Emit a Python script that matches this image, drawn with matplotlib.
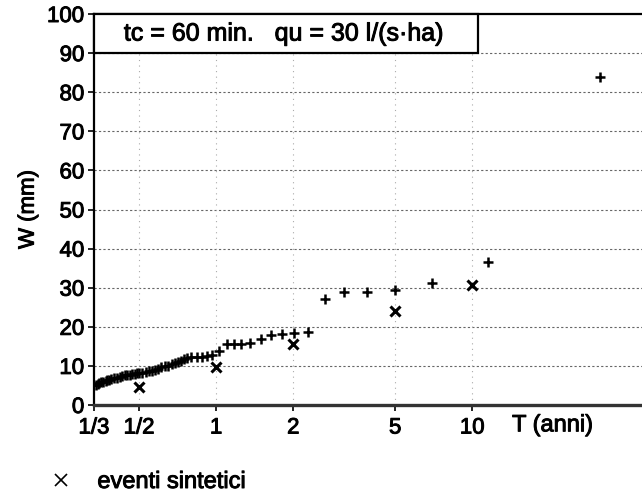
import matplotlib
matplotlib.use("Agg")
import matplotlib.pyplot as plt
import matplotlib.patheffects as pe
from matplotlib.lines import Line2D
from matplotlib.patches import Rectangle

plt.rcParams['font.family'] = ['Liberation Sans', 'DejaVu Sans']

# Observed events (plotting positions): return period T (years) and volume W (mm)
obs_T = [0.34, 0.345, 0.35, 0.355, 0.36, 0.37, 0.375, 0.38, 0.39, 0.40,
         0.41, 0.42, 0.43, 0.44, 0.45, 0.46, 0.47, 0.48, 0.49, 0.50,
         0.515, 0.53, 0.545, 0.56, 0.575, 0.59, 0.61, 0.63, 0.65, 0.67,
         0.69, 0.71, 0.73, 0.75, 0.77, 0.80, 0.84, 0.88, 0.92, 0.96,
         1.03, 1.10, 1.17, 1.25, 1.36, 1.49, 1.63, 1.81, 2.02, 2.28,
         2.66, 3.15, 3.88, 4.99, 6.97, 11.5, 31.6]
obs_W = [5.2, 5.4, 5.6, 5.9, 6.0, 6.2, 6.3, 6.5, 6.6, 6.9,
         7.0, 7.2, 7.4, 7.6, 7.7, 7.8, 7.9, 8.0, 8.1, 8.2,
         8.3, 8.5, 8.6, 8.8, 9.0, 9.3, 9.6, 9.9, 10.1, 10.4,
         10.7, 11.0, 11.3, 11.7, 12.0, 12.2, 12.4, 12.4, 12.6, 12.8,
         13.7, 15.6, 15.6, 15.7, 15.9, 17.0, 17.9, 18.2, 18.4, 18.6,
         27.0, 29.0, 29.0, 29.3, 31.2, 36.5, 84.0]

# Synthetic events
syn_T = [0.5, 1, 2, 5, 10]
syn_W = [4.5, 9.6, 15.6, 24.0, 30.6]

xticks = [1/3, 1/2, 1, 2, 5, 10]
xtick_labels = ['1/3', '1/2', '1', '2', '5', '10']
yticks = [0, 10, 20, 30, 40, 50, 60, 70, 80, 90, 100]

bold = [pe.withStroke(linewidth=0.7, foreground='black')]

fig = plt.figure(figsize=(6.42, 4.96), dpi=100)
ax = fig.add_axes([94/642, 91/496, 1 - 94/642, 391/496])
ax.set_xscale('log')
ax.set_xlim(1/3, 46)
ax.set_ylim(0, 100)

ax.plot(obs_T, obs_W, linestyle='none', marker='+', color='black',
        markersize=7.5, markeredgewidth=1.8, zorder=3)
ax.plot(syn_T, syn_W, linestyle='none', marker='x', color='black',
        markersize=7.5, markeredgewidth=2.2, zorder=3)

ax.set_xticks(xticks)
ax.set_xticklabels(xtick_labels)
ax.xaxis.set_minor_locator(matplotlib.ticker.NullLocator())
ax.set_yticks(yticks)
ax.tick_params(axis='both', labelsize=16, direction='out', length=4, width=1.2)
ax.tick_params(axis='x', pad=5)
ax.tick_params(axis='y', pad=3)
for lab in ax.get_xticklabels() + ax.get_yticklabels():
    lab.set_path_effects(bold)

# grid lines (dotted)
for y in yticks[1:-1]:
    ax.axhline(y, color='#666666', linestyle=(0, (2, 2)), linewidth=0.8, zorder=1)
for x in xticks[1:]:
    ax.axvline(x, color='#aaaaaa', linestyle=(0, (1, 4)), linewidth=0.8, zorder=1)

for s in ['left', 'top']:
    ax.spines[s].set_linewidth(1.6)
    ax.spines[s].set_color('black')
ax.spines['bottom'].set_linewidth(2.4)
ax.spines['bottom'].set_color('#333333')
ax.spines['right'].set_visible(False)

ax.set_ylabel('W (mm)', fontsize=16, labelpad=6, path_effects=bold)

ax.text(14.3, -0.052, 'T (anni)', transform=ax.get_xaxis_transform(),
        fontsize=17, ha='left', va='center', path_effects=bold)

# title box
box = Rectangle((0, 0.9), (478 - 94) / (642 - 94), 0.1,
                transform=ax.transAxes, fill=True, facecolor='white',
                edgecolor='black', linewidth=1.6, zorder=4, clip_on=False)
ax.add_patch(box)
ax.text((284 - 94) / (642 - 94), 0.95, 'tc = 60 min.   qu = 30 l/(s\u00b7ha)',
        transform=ax.transAxes, fontsize=18, ha='center', va='center', zorder=5,
        path_effects=bold)

handle = Line2D([], [], linestyle='none', marker='x', color='black',
                markersize=8, markeredgewidth=1.2)
leg = fig.legend([handle], ['eventi sintetici'], loc='center left',
                 bbox_to_anchor=(36/642, 1 - 482/496), frameon=False, fontsize=17,
                 handlelength=1.3, handletextpad=0.9, borderaxespad=0)
for t in leg.get_texts():
    t.set_path_effects(bold)

fig.savefig('out.png', dpi=100)
